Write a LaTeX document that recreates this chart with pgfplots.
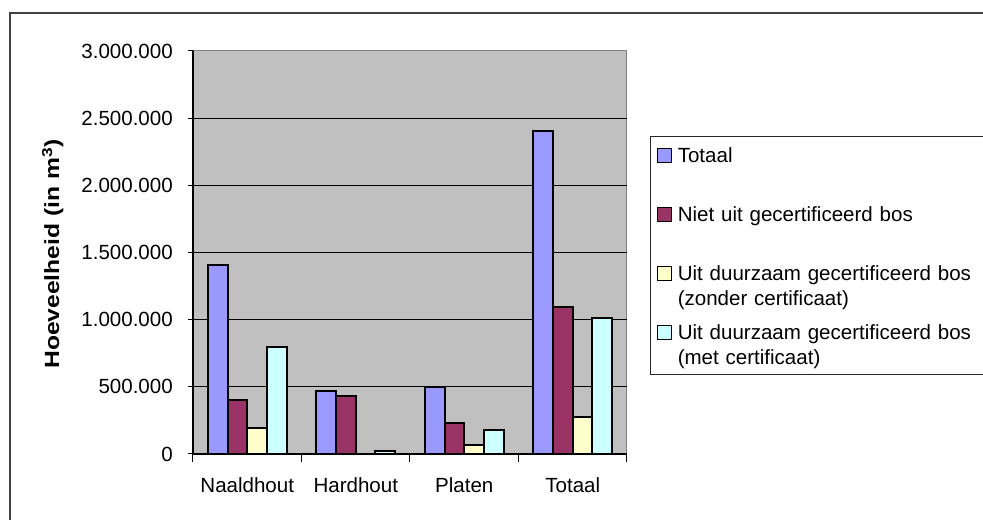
\documentclass[border=0pt]{standalone}
\usepackage{fontspec}
\setmainfont{Liberation Sans}
\newfontfamily\lblfont[FakeStretch=1.2]{Liberation Sans}
\usepackage{pgfplots}
\pgfplotsset{compat=1.18}
\definecolor{cTot}{HTML}{9999FF}
\definecolor{cNiet}{HTML}{993366}
\definecolor{cZon}{HTML}{FFFFCC}
\definecolor{cMet}{HTML}{CCFFFF}
\definecolor{bgc}{HTML}{C0C0C0}
\newcommand\twol[2]{\begin{tabular}[t]{@{}l@{}}#1\\#2\end{tabular}}
\pgfplotsset{sqlegend/.style={legend image code/.code={%
  \path[draw=none, fill=none] (-4.5pt,0pt) -- (0pt,0pt);
  \filldraw[fill=#1, draw=black, line width=0.9pt] (0pt,0pt) rectangle (10.5pt,10.5pt);}}}
\begin{document}
\begin{tikzpicture}[font=\fontsize{15.4}{18.75}\selectfont]
\path[use as bounding box] (0,0) rectangle (737.25pt,390pt);
\draw[line width=1pt, black!75] (7.5pt,-5pt) -- (7.5pt,380.25pt) -- (745pt,380.25pt);
\begin{axis}[
  at={(144.75pt,49.5pt)}, anchor=south west,
  scale only axis, width=325.5pt, height=302.25pt,
  xmin=-0.5, xmax=3.5, ymin=0, ymax=3000000,
  ybar=0pt, bar width=14.8pt,
  axis x line*=bottom, axis y line*=left,
  axis line style={black, line width=0.9pt},
  axis background/.style={fill=bgc, draw=black!50, line width=0.75pt},
  xtick={0,1,2,3}, xticklabels={Naaldhout,Hardhout,Platen,Totaal},
  minor xtick={-0.5,0.5,1.5,2.5,3.5},
  ytick={0,500000,1000000,1500000,2000000,2500000},
  extra y ticks={3000000}, extra y tick style={grid=none},
  tick align=outside, major tick length=3.75pt, minor tick length=6pt,
  every major x tick/.append style={draw=none},
  tick style={black, line width=0.75pt},
  ymajorgrids, grid style={black, line width=0.6pt},
  scaled y ticks=false,
  /pgf/number format/assume math mode=true,
  yticklabel style={/pgf/number format/1000 sep={.}, /pgf/number format/fixed, /pgf/number format/precision=0, anchor=east, inner sep=0pt, xshift=-11.25pt},
  xticklabel style={anchor=base, inner sep=0pt, yshift=-25.5pt},
  ylabel={\lblfont\bfseries Hoeveelheid (in m\textsuperscript{3})},
  ylabel style={at={(axis description cs:-0.323,0.496)}, anchor=center},
  legend style={at={(1.053,0.789)}, anchor=north west, draw=black!85, line width=0.75pt, fill=white,
    inner sep=0.5pt, row sep=0pt, column sep=4.5pt,
    cells={anchor=base west},
    nodes={inner sep=0pt, anchor=base west, text width=235pt, text height=18.8pt, text depth=25.5pt}},
]
\addplot[fill=cTot, draw=black, line width=1.5pt, sqlegend=cTot] coordinates {(0,1405000) (1,471000) (2,501000) (3,2407000)};
\addplot[fill=cNiet, draw=black, line width=1.5pt, sqlegend=cNiet] coordinates {(0,402000) (1,432000) (2,233000) (3,1097000)};
\addplot[fill=cZon, draw=black, line width=1.5pt, sqlegend=cZon] coordinates {(0,191000) (1,0) (2,65000) (3,278000)};
\addplot[fill=cMet, draw=black, line width=1.5pt, sqlegend=cMet] coordinates {(0,797000) (1,22000) (2,179000) (3,1010000)};
\addlegendentry{\twol{Totaal}{}}
\addlegendentry{\twol{Niet uit gecertificeerd bos}{}}
\addlegendentry{\twol{Uit duurzaam gecertificeerd bos}{(zonder certificaat)}}
\addlegendentry{\twol{Uit duurzaam gecertificeerd bos}{(met certificaat)}}
\end{axis}
\end{tikzpicture}
\end{document}
